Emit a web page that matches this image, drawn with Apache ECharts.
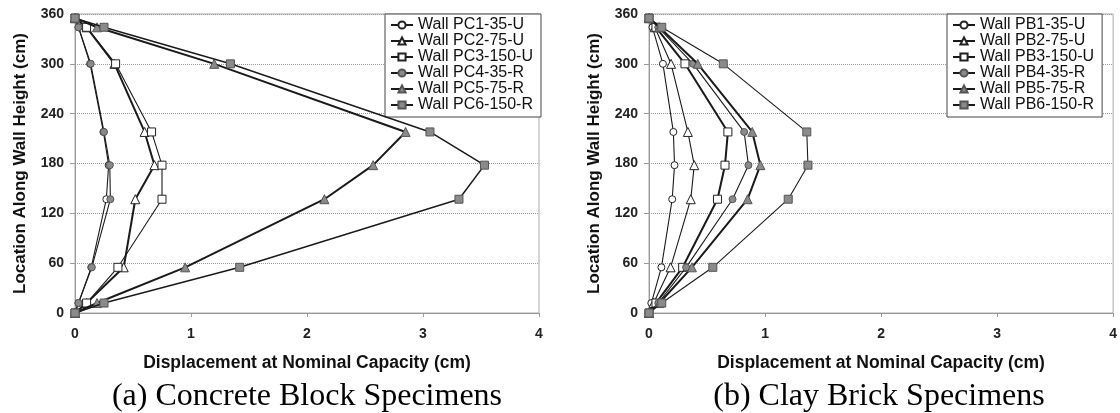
<!DOCTYPE html>
<html>
<head>
<meta charset="utf-8">
<title>Wall displacement profiles</title>
<script src="https://cdn.jsdelivr.net/npm/echarts@6/dist/echarts.min.js"></script>
<style>html,body{margin:0;background:#fff}</style>
</head>
<body>
<div id="chart" style="width:1120px;height:413px"></div>
<script>
// measurement heights along the wall (cm), shared by every specimen
const heights = [0, 12, 55, 137, 178, 218, 300, 344, 355]

// (a) concrete block specimens, displacement (cm) at each height
const pcNames = ['Wall PC1-35-U', 'Wall PC2-75-U', 'Wall PC3-150-U', 'Wall PC4-35-R', 'Wall PC5-75-R', 'Wall PC6-150-R']
const pc1 = [0, 0.03, 0.14, 0.27, 0.29, 0.245, 0.13, 0.03, 0]
const pc2 = [0, 0.10, 0.42, 0.52, 0.685, 0.60, 0.34, 0.10, 0]
const pc3 = [0, 0.10, 0.37, 0.75, 0.75, 0.66, 0.35, 0.10, 0]
const pc4 = [0, 0.03, 0.145, 0.305, 0.30, 0.25, 0.136, 0.03, 0]
const pc5 = [0, 0.19, 0.95, 2.15, 2.57, 2.85, 1.20, 0.19, 0]
const pc6 = [0, 0.25, 1.42, 3.31, 3.53, 3.06, 1.34, 0.25, 0]

// (b) clay brick specimens
const pbNames = ['Wall PB1-35-U', 'Wall PB2-75-U', 'Wall PB3-150-U', 'Wall PB4-35-R', 'Wall PB5-75-R', 'Wall PB6-150-R']
const pb1 = [0, 0.02, 0.107, 0.20, 0.22, 0.21, 0.12, 0.03, 0]
const pb2 = [0, 0.04, 0.186, 0.36, 0.39, 0.335, 0.19, 0.05, 0]
const pb3 = [0, 0.06, 0.29, 0.59, 0.655, 0.68, 0.31, 0.06, 0]
const pb4 = [0, 0.08, 0.32, 0.72, 0.857, 0.82, 0.38, 0.08, 0]
const pb5 = [0, 0.09, 0.37, 0.85, 0.96, 0.89, 0.42, 0.09, 0]
const pb6 = [0, 0.11, 0.55, 1.20, 1.37, 1.36, 0.64, 0.11, 0]

const captions = ['(a) Concrete Block Specimens', '(b) Clay Brick Specimens']

// marker look per specimen slot (same order in both panels)
const marks = [
    { symbol: 'circle', size: 7, fill: '#fff', border: '#222' },
    { symbol: 'triangle', size: 9, fill: '#fff', border: '#222' },
    { symbol: 'rect', size: 8, fill: '#fff', border: '#222' },
    { symbol: 'circle', size: 7, fill: '#8a8a8a', border: '#555' },
    { symbol: 'triangle', size: 9, fill: '#8a8a8a', border: '#555' },
    { symbol: 'rect', size: 8, fill: '#8a8a8a', border: '#555' }
]
const pcWidths = [1.1, 2, 1.1, 1.1, 2, 1.5]
const pbWidths = [1.1, 1.1, 2, 1.1, 2, 1.1]

const font = 'Liberation Sans, Arial, sans-serif'

function makeSeries(name, xs, slot, panel, width) {
    const m = marks[slot]
    return {
        name: name,
        type: 'line',
        xAxisIndex: panel,
        yAxisIndex: panel,
        data: xs.map((x, i) => [x, heights[i]]),
        symbol: m.symbol,
        symbolSize: m.size,
        showAllSymbol: true,
        lineStyle: { color: '#1a1a1a', width: width },
        itemStyle: { color: m.fill, borderColor: m.border, borderWidth: 1 },
        emphasis: { disabled: true },
        animation: false,
        z: 3 + slot
    }
}

const series = []
;[pc1, pc2, pc3, pc4, pc5, pc6].forEach((d, i) => series.push(makeSeries(pcNames[i], d, i, 0, pcWidths[i])))
;[pb1, pb2, pb3, pb4, pb5, pb6].forEach((d, i) => series.push(makeSeries(pbNames[i], d, i, 1, pbWidths[i])))

function xAx(grid) {
    return {
        gridIndex: grid, type: 'value', min: 0, max: 4, interval: 1,
        axisLine: { show: true, lineStyle: { color: '#999' } },
        axisTick: { show: true, length: 4, lineStyle: { color: '#999' } },
        axisLabel: { fontSize: 14, fontWeight: 'bold', color: '#222', fontFamily: font, margin: 14 },
        splitLine: { show: false },
        name: 'Displacement at Nominal Capacity (cm)',
        nameLocation: 'middle', nameGap: 41,
        nameTextStyle: { fontSize: 17.5, fontWeight: 'bold', color: '#111', fontFamily: font }
    }
}
function yAx(grid) {
    return {
        gridIndex: grid, type: 'value', min: 0, max: 360, interval: 60,
        axisLine: { show: true, lineStyle: { color: '#999' } },
        axisTick: { show: true, length: 5, lineStyle: { color: '#999' } },
        axisLabel: { fontSize: 14, fontWeight: 'bold', color: '#222', fontFamily: font, margin: 11 },
        splitLine: { show: true, lineStyle: { color: '#999', type: 'dotted' } },
        name: 'Location Along Wall Height (cm)',
        nameLocation: 'middle', nameGap: 46,
        nameTextStyle: { fontSize: 17, fontWeight: 'bold', color: '#111', fontFamily: font }
    }
}
function legend(names, left) {
    return {
        data: names, orient: 'vertical', left: left, top: 14,
        backgroundColor: '#fff', borderColor: '#444', borderWidth: 1,
        padding: [3, 8, 4, 5], itemGap: 0, itemWidth: 22, itemHeight: 9,
        selectedMode: false,
        textStyle: { fontSize: 16, color: '#111', fontFamily: font, lineHeight: 15.6 }
    }
}

const chart = echarts.init(document.getElementById('chart'), null, { renderer: 'canvas' })
chart.setOption({
    animation: false,
    backgroundColor: '#fff',
    grid: [
        { left: 75, top: 14, width: 464, height: 299, show: true, borderColor: '#aaa', borderWidth: 1 },
        { left: 649, top: 14, width: 470, height: 299, show: true, borderColor: '#aaa', borderWidth: 1 }
    ],
    xAxis: [xAx(0), xAx(1)],
    yAxis: [yAx(0), yAx(1)],
    legend: [legend(pcNames, 385), legend(pbNames, 947)],
    series: series,
    graphic: [
        { type: 'text', x: 307, y: 397, style: { text: captions[0], fontSize: 32, fontFamily: 'Liberation Serif, Times New Roman, serif', fill: '#000', align: 'center', verticalAlign: 'middle' } },
        { type: 'text', x: 879, y: 397, style: { text: captions[1], fontSize: 32, fontFamily: 'Liberation Serif, Times New Roman, serif', fill: '#000', align: 'center', verticalAlign: 'middle' } }
    ]
})
</script>
</body>
</html>
